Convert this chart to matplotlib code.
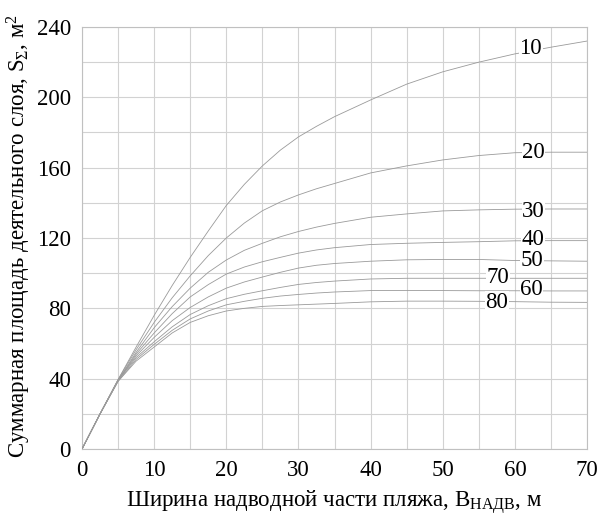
import numpy as np
import matplotlib
matplotlib.use('Agg')
import matplotlib.pyplot as plt

plt.rcParams['font.family'] = ['Liberation Serif', 'DejaVu Serif']
plt.rcParams['mathtext.fontset'] = 'custom'
plt.rcParams['mathtext.rm'] = 'Liberation Serif'
plt.rcParams['mathtext.it'] = 'Liberation Serif:italic'

# width of the dry beach part, m
width = [0, 2.5, 5, 7.5, 10, 12.5, 15, 17.5, 20, 22.5, 25, 27.5, 30, 32.5, 35,
         40, 45, 50, 55, 60, 65, 70]

# total active layer area, one list per curve (names as on the chart)
curve_names = ['10', '20', '30', '40', '50', '60', '70', '80']
s10 = [0, 20, 39.5, 58, 76, 93, 109, 124, 138.5, 150.5, 161, 170, 177.5, 183.5, 189,
       198.5, 207.5, 214.5, 220, 224.7, 228.5, 232]
s20 = [0, 20, 39.5, 56.5, 72, 86, 98.5, 110, 120, 128.5, 135.5, 140.5, 144.5, 148, 151,
       157, 161, 164.4, 166.9, 168.5, 168.8, 168.8]
s30 = [0, 20, 39, 55, 69, 81, 91.5, 100.5, 107.5, 113, 117, 120.7, 123.7, 126.2, 128.3,
       131.8, 133.7, 135.4, 136, 136.4, 136.5, 136.5]
s40 = [0, 20, 39, 54, 66, 77, 86.5, 93.5, 99.5, 103.5, 106.5, 109, 111.4, 113.2, 114.5,
       116.3, 117, 117.5, 117.9, 118.4, 118.5, 118.5]
s50 = [0, 20, 39, 53, 63.5, 73, 80.5, 86.5, 91.5, 95, 97.8, 100.5, 102.9, 104.5, 105.5,
       106.8, 107.6, 107.8, 107.8, 107.2, 107, 106.8]
s60 = [0, 20, 39, 52, 61, 69.5, 76.5, 81.5, 85.5, 88, 90, 91.9, 93.6, 94.7, 95.5,
       96.7, 97.1, 97.1, 97.1, 97.1, 97.1, 97.1]
s70 = [0, 20, 38.5, 51, 59.5, 67.5, 74, 78.5, 82, 84, 85.7, 87, 87.9, 88.7, 89.3,
       90.1, 90.2, 90.1, 90, 90, 89.9, 89.9]
s80 = [0, 20, 38.5, 50, 58, 66, 72, 75.8, 78.5, 80, 81.1, 81.6, 82, 82.4, 82.8,
       83.7, 84.1, 84.1, 84, 83.8, 83.5, 83.4]
series = [s10, s20, s30, s40, s50, s60, s70, s80]

# curve labels as placed on the reference (x, S)
label_text = ['10', '20', '30', '40', '50', '70', '60', '80']
label_x = [62.2, 62.6, 62.6, 62.5, 62.4, 57.7, 62.3, 57.5]
label_y = [227.5, 168.5, 135.3, 119.2, 107.1, 97.3, 90.5, 83.6]

fig = plt.figure(figsize=(6.08, 5.22), dpi=100)
ax = fig.add_axes([0.1349, 0.1398, 0.8306, 0.8085])

for s in series:
    ax.plot(width, s, color='#9a9a9a', lw=0.6, zorder=3)

for t, lx, ly in zip(label_text, label_x, label_y):
    ax.text(lx, ly, t, fontsize=16.5, ha='center', va='center', zorder=4,
            bbox=dict(facecolor='white', edgecolor='none', pad=0.3))

ax.set_xlim(0, 70)
ax.set_ylim(0, 240)
ax.set_xticks(np.arange(0, 71, 10))
ax.set_yticks(np.arange(0, 241, 40))
ax.set_xticks(np.arange(0, 71, 5), minor=True)
ax.set_yticks(np.arange(0, 241, 20), minor=True)
ax.grid(which='both', color='#d2d2d2', lw=0.8)
ax.tick_params(which='both', length=0, labelsize=16.5)
ax.tick_params(axis='x', pad=8)
ax.tick_params(axis='y', pad=8)
for sp in ax.spines.values():
    sp.set_color('#c0c0c0')
    sp.set_linewidth(0.8)

ax.set_xlabel('Ширина надводной части пляжа, B$_{\\mathrm{НАДВ}}$, м', fontsize=16.5, labelpad=5)
ax.set_ylabel('Суммарная площадь деятельного слоя, S$_{\\Sigma}$, м$^2$', fontsize=16.5)
ax.yaxis.set_label_coords(-0.098, 0.505)

fig.savefig('out.png', dpi=100)
